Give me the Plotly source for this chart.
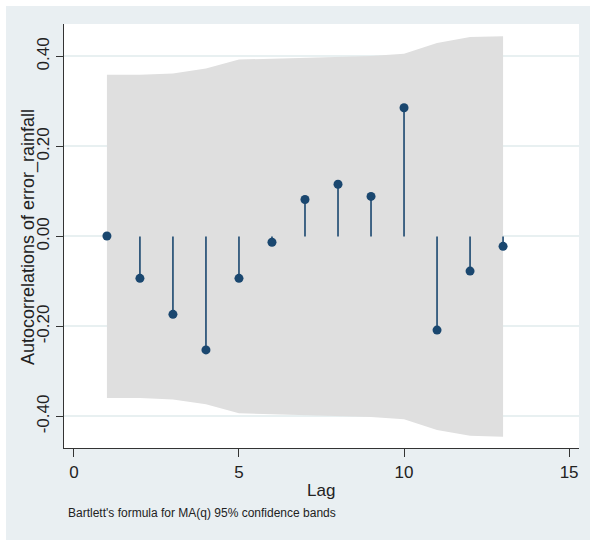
import plotly.graph_objects as go

# Autocorrelation of error_rainfall with Bartlett 95% confidence band
lags = [1, 2, 3, 4, 5, 6, 7, 8, 9, 10, 11, 12, 13]
acf = [0.001, -0.093, -0.173, -0.252, -0.093, -0.013, 0.082, 0.116, 0.089,
       0.286, -0.208, -0.077, -0.022]
band_upper = [0.359, 0.359, 0.362, 0.373, 0.393, 0.395, 0.396, 0.398, 0.401,
              0.406, 0.430, 0.443, 0.445]
band_lower = [-v for v in band_upper]

y_ticks = [-0.4, -0.2, 0.0, 0.2, 0.4]
y_tick_text = ["-0.40", "-0.20", "0.00", "0.20", "0.40"]
x_ticks = [0, 5, 10, 15]

NAVY = "#1a476f"
BAND = "#dfdfdf"
OUTER = "#e9eff2"
GRID = "#e8f0f1"
FONT = "Liberation Sans, Arial, sans-serif"

# plot-area geometry (pixels)
W, H = 590, 540
L, R, T, B = 64, 11, 24, 92
pw, ph = W - L - R, H - T - B


def px_x(x):
    return (x - L) / pw


def px_y(y):
    return (H - B - y) / ph


fig = go.Figure()

# confidence band
fig.add_trace(go.Scatter(x=lags, y=band_upper, mode="lines",
                         line=dict(width=0, color=BAND), hoverinfo="skip",
                         showlegend=False))
fig.add_trace(go.Scatter(x=lags, y=band_lower, mode="lines",
                         line=dict(width=0, color=BAND), fill="tonexty",
                         fillcolor=BAND, hoverinfo="skip", showlegend=False))

# stems
sx, sy = [], []
for lag, r in zip(lags, acf):
    sx += [lag, lag, None]
    sy += [0, r, None]
fig.add_trace(go.Scatter(x=sx, y=sy, mode="lines",
                         line=dict(color=NAVY, width=1.6), showlegend=False,
                         hoverinfo="skip"))

# markers
fig.add_trace(go.Scatter(x=lags, y=acf, mode="markers",
                         marker=dict(color=NAVY, size=9, symbol="circle"),
                         showlegend=False))

fig.update_layout(
    width=W, height=H,
    margin=dict(l=L, r=R, t=T, b=B),
    paper_bgcolor=OUTER,
    plot_bgcolor="white",
    font=dict(family=FONT, color="#222222"),
    xaxis=dict(range=[-0.3, 15.3], tickvals=x_ticks, showgrid=False,
               zeroline=False, showline=True, linecolor="#333333",
               linewidth=1.2, ticks="outside", ticklen=8, tickcolor="#333333",
               tickfont=dict(family=FONT, size=17, color="#222222")),
    yaxis=dict(range=[-0.47, 0.472], tickvals=y_ticks, ticktext=y_tick_text,
               tickangle=-90, showgrid=True, gridcolor=GRID, gridwidth=1.5,
               zeroline=False, showline=True, linecolor="#333333",
               linewidth=1.2, ticks="outside", ticklen=7, tickcolor="#333333",
               tickfont=dict(family=FONT, size=17, color="#222222")),
    shapes=[
        dict(type="rect", xref="paper", yref="paper", x0=px_x(0), x1=px_x(W),
             y0=px_y(0), y1=px_y(6), fillcolor="white", line=dict(width=0),
             layer="above"),
        dict(type="rect", xref="paper", yref="paper", x0=px_x(0), x1=px_x(6),
             y0=px_y(0), y1=px_y(H), fillcolor="white", line=dict(width=0),
             layer="above"),
    ],
    annotations=[
        dict(text="Autocorrelations of error_rainfall", xref="paper",
             yref="paper", x=px_x(28), y=px_y(237), textangle=-90,
             showarrow=False, xanchor="center", yanchor="middle",
             font=dict(family=FONT, size=18, color="#222222")),
        dict(text="Lag", xref="paper", yref="paper", x=px_x(321),
             y=px_y(490), showarrow=False, xanchor="center",
             yanchor="middle",
             font=dict(family=FONT, size=17, color="#222222")),
        dict(text="Bartlett's formula for MA(q) 95% confidence bands",
             xref="paper", yref="paper", x=px_x(66), y=px_y(513),
             showarrow=False, xanchor="left", yanchor="middle",
             font=dict(family=FONT, size=12, color="#222222")),
    ],
)

fig.write_html("out.html")
